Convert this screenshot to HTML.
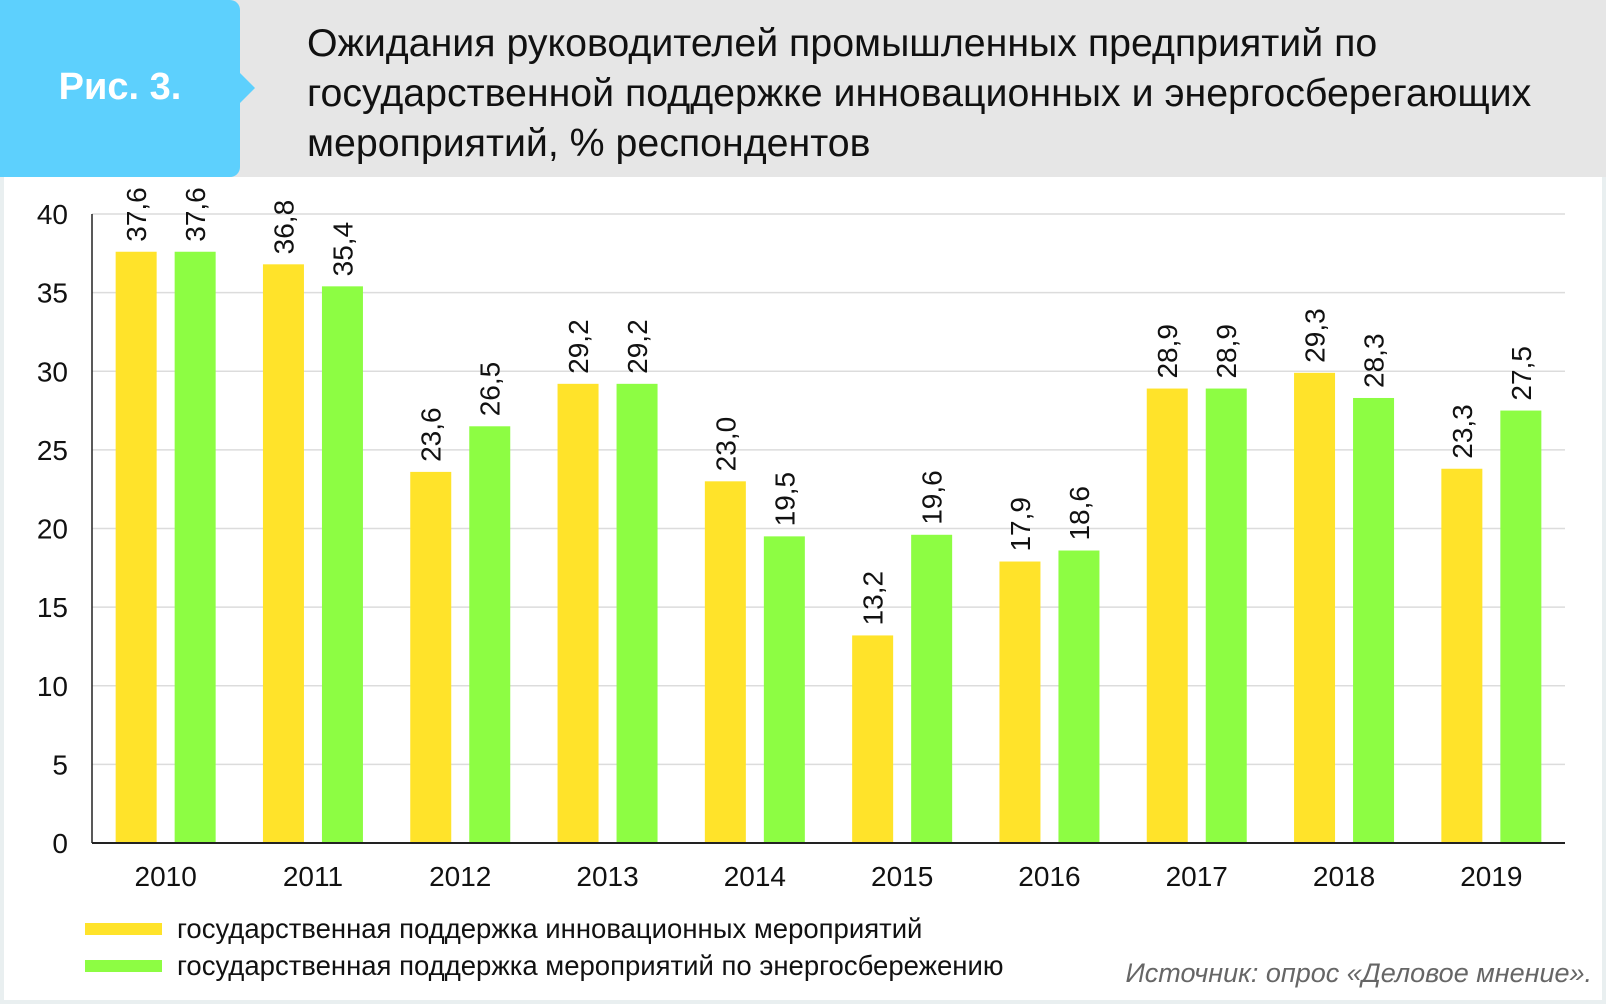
<!DOCTYPE html>
<html><head><meta charset="utf-8"><style>
body{margin:0;width:1606px;height:1004px;overflow:hidden;background:#e9eff0;font-family:"Liberation Sans","DejaVu Sans",sans-serif}
#panel{position:absolute;left:4px;top:0;width:1598px;height:1000px;background:#fff}
#hdr{position:absolute;left:0;top:0;width:1606px;height:177px;background:#e6e6e6}
#badge{position:absolute;left:0;top:0;width:240px;height:177px;background:#5dd0fd;border-radius:0 10px 10px 0}
#arrow{position:absolute;left:239px;top:72px;width:0;height:0;border-top:16px solid transparent;border-bottom:16px solid transparent;border-left:16px solid #5dd0fd}
#ric{position:absolute;left:0;width:240px;top:66px;text-align:center;color:#fff;font-weight:bold;font-size:38px}
#title{position:absolute;left:307px;top:18px;font-size:39.3px;line-height:50px;color:#111;white-space:nowrap}
#src{position:absolute;right:14px;top:958px;font-size:27px;font-style:italic;color:#666}
</style></head><body>
<div id="panel"></div>
<div id="hdr"></div>
<div id="badge"></div>
<div id="arrow"></div>
<div id="ric">Рис. 3.</div>
<div id="title">Ожидания руководителей промышленных предприятий по<br>государственной поддержке инновационных и энергосберегающих<br>мероприятий, % респондентов</div>
<svg id="chart" width="1606" height="1004" style="position:absolute;left:0;top:0"></svg>
<div id="src">Источник: опрос «Деловое мнение».</div>
<script>
const years=["2010","2011","2012","2013","2014","2015","2016","2017","2018","2019"];
const innov=[37.6,36.8,23.6,29.2,23.0,13.2,17.9,28.9,29.9,23.8];
const innovLabels=["37,6","36,8","23,6","29,2","23,0","13,2","17,9","28,9","29,3","23,3"];
const energy=[37.6,35.4,26.5,29.2,19.5,19.6,18.6,28.9,28.3,27.5];
const energyLabels=["37,6","35,4","26,5","29,2","19,5","19,6","18,6","28,9","28,3","27,5"];
const yTicks=[0,5,10,15,20,25,30,35,40];
const seriesNames=["государственная поддержка инновационных мероприятий","государственная поддержка мероприятий по энергосбережению"];

const svg=document.getElementById('chart');
const NS='http://www.w3.org/2000/svg';
const L=92,R=1565,T=214,B=843,yMax=40;
const y=v=>B-(B-T)*v/yMax;
const bw=(R-L)/years.length;
const xc=i=>L+bw*(i+0.5);
function mk(t,a){const e=document.createElementNS(NS,t);for(const k in a)e.setAttribute(k,a[k]);svg.appendChild(e);return e;}
yTicks.forEach(v=>{
  if(v>0){const g=mk('line',{x1:L,x2:R,y1:y(v),y2:y(v),stroke:'#dcdcdc','stroke-width':1.5});
  
  }
  const t=mk('text',{x:68,y:y(v)+10,'text-anchor':'end','font-size':28,fill:'#111'});t.textContent=v;
  
  
});
const yax=mk('line',{x1:L,x2:L,y1:T,y2:B,stroke:'#222','stroke-width':1.5});


const cols=['#ffe32a','#8dfd43'];
[innov,energy].forEach((arr,s)=>{
  const labs=s?energyLabels:innovLabels;
  arr.forEach((v,i)=>{
    const x=xc(i)+(s?9:-50);
    const r=mk('rect',{x:x,y:y(v),width:41,height:B-y(v),fill:cols[s]});
    
    
    const tx=x+20.5+10,ty=y(v)-10;
    const t=mk('text',{x:tx,y:ty,transform:`rotate(-90 ${tx} ${ty})`,'font-size':28,fill:'#111'});
    t.textContent=labs[i];
    
    
  });
});
const xax=mk('line',{x1:L,x2:R,y1:B,y2:B,stroke:'#222','stroke-width':2});


years.forEach((yr,i)=>{
  const t=mk('text',{x:xc(i),y:886,'text-anchor':'middle','font-size':28,fill:'#111'});t.textContent=yr;
  
  
});
seriesNames.forEach((n,s)=>{
  const yy=929+s*37;
  const r=mk('rect',{x:85,y:yy-6,width:77,height:12,fill:cols[s]});
  
  
  const t=mk('text',{x:177,y:yy+9,'font-size':27.5,fill:'#111'});t.textContent=n;
  
  
});
</script>
</body></html>
